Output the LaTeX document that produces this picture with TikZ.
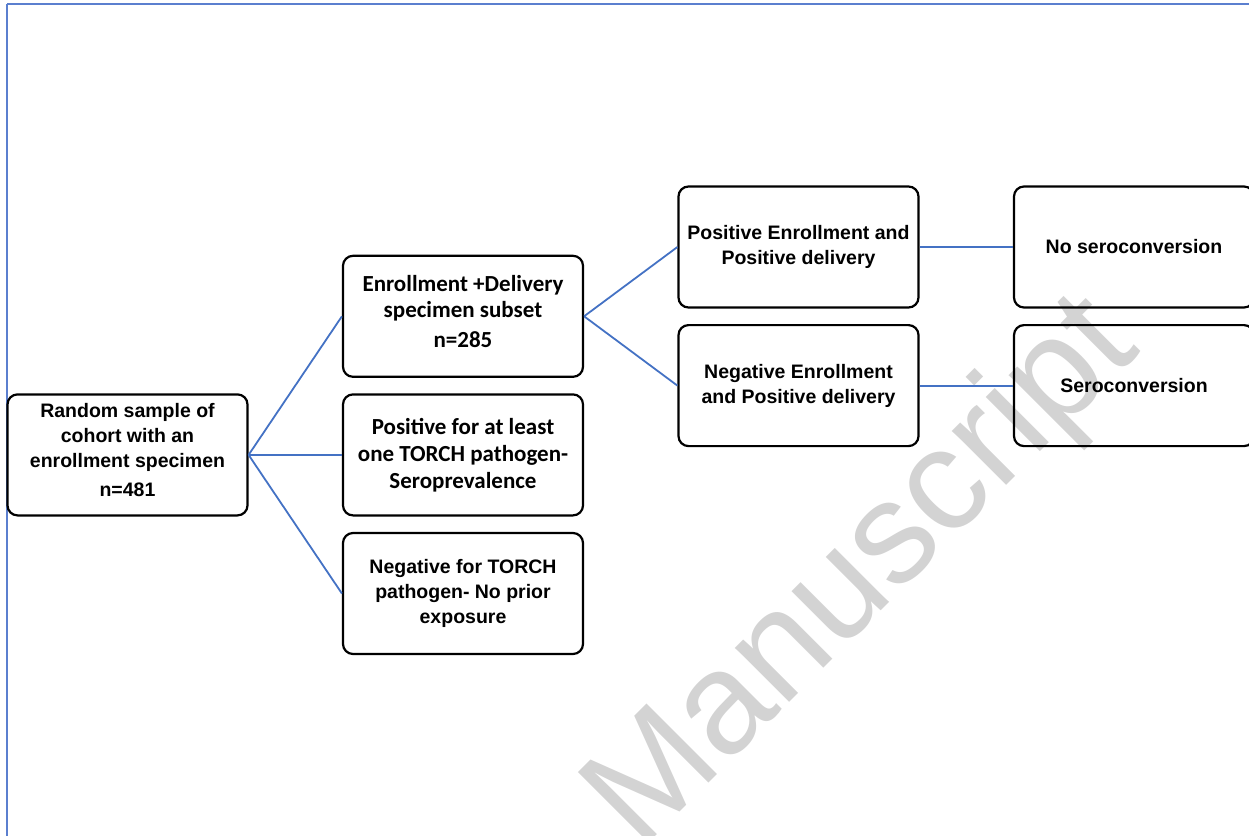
\documentclass[tikz,border=0pt]{standalone}
\usepackage{fontspec}
\usepackage{xcolor}
\usetikzlibrary{matrix}
\newfontfamily\arialfont{Liberation Sans}
\newfontfamily\calibrifont{Carlito}
\definecolor{astblau}{RGB}{68,114,196}
\definecolor{rahmenblau}{RGB}{91,127,207}
\definecolor{wzgrau}{RGB}{211,211,211}
\tikzset{
  Kasten/.style={draw, line width=2.2pt, rounded corners=10pt,
    minimum width=240pt, minimum height=121pt, inner sep=0pt, align=center}, % box frame
  AKasten/.style={Kasten, font=\arialfont\bfseries\fontsize{19.5}{25}\selectfont}, % Arial text
  CKasten/.style={Kasten, font=\calibrifont\bfseries\fontsize{23}{26}\selectfont}, % Calibri text
  Ast/.style={astblau, line width=1.8pt} % branch lines
}

\begin{document}
\begin{tikzpicture}[x=1pt, y=1pt]
\useasboundingbox (0,0) rectangle (1249,-835);

\matrix (S) [
  matrix of nodes, nodes in empty cells,
  inner sep=0pt, outer sep=0pt,
  column sep=335.5pt, row sep=69.3pt,
  nodes={inner sep=0pt, outer sep=0pt, minimum size=0pt},
  anchor=north west
  ] at (127.5,-247)
{
  &&& \\
  &&& \\
  &&& \\
  &&& \\
  &&& \\
  &&& \\
};

%Frame
\draw[rahmenblau, line width=2pt] (7,-900) -- (7,-4);
\draw[rahmenblau, line width=1.4pt] (7,-4) -- (1300,-4);

%Watermark
\node[text=wzgrau, font=\arialfont\fontsize{145}{145}\selectfont,
  rotate=45, anchor=base west, inner sep=0pt] (WZ) at (640,-852) {Manuscript};

%Boxes
\node[AKasten] (Stichprobe) at (S-4-1) {Random sample of\\cohort with an\\enrollment specimen\\[4pt]n=481\\[-16pt]\mbox{}};
\node[CKasten] (Teilmenge) at (S-2-2) {Enrollment +Delivery\\specimen subset\\[4pt]n=285\\[-16pt]\mbox{}};
\node[CKasten] (SeroPos) at (S-4-2) {Positive for at least\\[1pt]one TORCH pathogen-\\[1pt]Seroprevalence};
\node[AKasten] (SeroNeg) at (S-6-2) {Negative for TORCH\\pathogen- No prior\\exposure};
\node[AKasten] (PosPos) at (S-1-3) {Positive Enrollment and\\Positive delivery};
\node[AKasten] (NegPos) at (S-3-3) {Negative Enrollment\\and Positive delivery};
\node[AKasten] (KeineKonv) at (S-1-4) {No seroconversion};
\node[AKasten] (Konv) at (S-3-4) {Seroconversion};

%Branches
\draw[Ast] (Stichprobe.east) -- (Teilmenge.west);
\draw[Ast] (Stichprobe.east) -- (SeroPos.west);
\draw[Ast] (Stichprobe.east) -- (SeroNeg.west);
\draw[Ast] (Teilmenge.east) -- (PosPos.west);
\draw[Ast] (Teilmenge.east) -- (NegPos.west);
\draw[Ast] (PosPos.east) -- (KeineKonv.west);
\draw[Ast] (NegPos.east) -- (Konv.west);

\end{tikzpicture}
\end{document}
